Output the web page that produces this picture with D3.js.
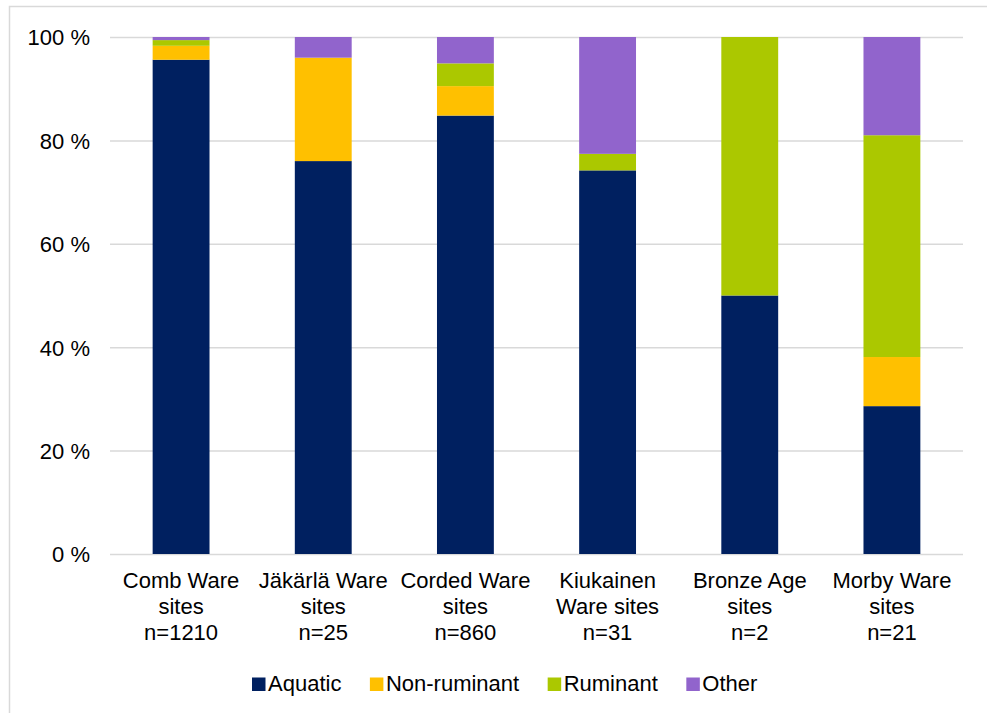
<!DOCTYPE html>
<html>
<head>
<meta charset="utf-8">
<script src="https://cdn.jsdelivr.net/npm/d3@7"></script>
<style>
  html, body { margin: 0; padding: 0; background: #fff; }
  svg { display: block; font-family: "Liberation Sans", Arial, sans-serif; }
</style>
</head>
<body>
<svg id="chart" width="987" height="713"></svg>
<script>
// Category labels (one entry per line)
const categories = [
  ["Comb Ware", "sites", "n=1210"],
  ["Jäkärlä Ware", "sites", "n=25"],
  ["Corded Ware", "sites", "n=860"],
  ["Kiukainen", "Ware sites", "n=31"],
  ["Bronze Age", "sites", "n=2"],
  ["Morby Ware", "sites", "n=21"]
];
const seriesNames = ["Aquatic", "Non-ruminant", "Ruminant", "Other"];
const seriesColors = ["#002060", "#FFC000", "#ABC800", "#9164CC"];

// Percentage shares per category
const aquatic     = [95.6, 76.0, 84.8, 74.2, 50.0, 28.6];
const nonRuminant = [2.7, 20.0, 5.7, 0.0, 0.0, 9.5];
const ruminant    = [1.1, 0.0, 4.4, 3.2, 50.0, 42.9];
const other       = [0.6, 4.0, 5.1, 22.6, 0.0, 19.0];

const yTicks = [0, 20, 40, 60, 80, 100];

const svg = d3.select("#chart");
const W = 987, H = 713;
const FONT = 22;
const plot = { left: 110, right: 963, top: 37, bottom: 554 };

// chart frame
svg.append("rect")
  .attr("x", 9.5).attr("y", 6.5)
  .attr("width", W + 20).attr("height", H + 20)
  .attr("fill", "none").attr("stroke", "#d9d9d9").attr("stroke-width", 1.5);

const rows = categories.map((c, i) => ({
  key: i,
  Aquatic: aquatic[i],
  "Non-ruminant": nonRuminant[i],
  Ruminant: ruminant[i],
  Other: other[i]
}));

const x = d3.scaleBand()
  .domain(d3.range(categories.length))
  .range([plot.left, plot.right])
  .paddingInner(0.6).paddingOuter(0.3);

const y = d3.scaleLinear().domain([0, 100]).range([plot.bottom, plot.top]);

// gridlines
const grid = svg.append("g")
  .attr("transform", `translate(${plot.left},0)`)
  .call(d3.axisLeft(y).tickValues(yTicks).tickSize(-(plot.right - plot.left)).tickFormat(""));
grid.select(".domain").remove();
grid.selectAll(".tick line").attr("stroke", "#d9d9d9").attr("stroke-width", 1.5);

// y tick labels
const yAxis = svg.append("g")
  .attr("transform", `translate(${plot.left - 20},0)`)
  .call(d3.axisLeft(y).tickValues(yTicks).tickSize(0).tickFormat(d => d + " %"));
yAxis.select(".domain").remove();
yAxis.selectAll("text")
  .attr("x", 0).attr("dy", "0.36em")
  .attr("font-size", FONT).attr("fill", "#000")
  .style("font-family", "'Liberation Sans', Arial, sans-serif");

// stacked bars
const stack = d3.stack().keys(seriesNames);
const layers = stack(rows);

svg.append("g").selectAll("g")
  .data(layers)
  .join("g")
  .attr("fill", (d, i) => seriesColors[i])
  .selectAll("rect")
  .data(d => d)
  .join("rect")
  .attr("x", d => x(d.data.key))
  .attr("width", x.bandwidth())
  .attr("y", d => y(d[1]))
  .attr("height", d => Math.max(0, y(d[0]) - y(d[1])));

// category labels
const catG = svg.append("g");
categories.forEach((lines, i) => {
  const cx = x(i) + x.bandwidth() / 2;
  const t = catG.append("text")
    .attr("text-anchor", "middle")
    .attr("font-size", FONT)
    .attr("fill", "#000");
  lines.forEach((ln, j) => {
    t.append("tspan").attr("x", cx).attr("y", 588 + j * 26).text(ln);
  });
});

// legend
const legend = svg.append("g");
let lx = 252;
seriesNames.forEach((name, i) => {
  legend.append("rect")
    .attr("x", lx).attr("y", 677.5)
    .attr("width", 13.5).attr("height", 13.5)
    .attr("fill", seriesColors[i]);
  const t = legend.append("text")
    .attr("x", lx + 16).attr("y", 691)
    .attr("font-size", FONT).attr("fill", "#000")
    .text(name);
  lx += 16 + t.node().getComputedTextLength() + 28.5;
});
</script>
</body>
</html>
